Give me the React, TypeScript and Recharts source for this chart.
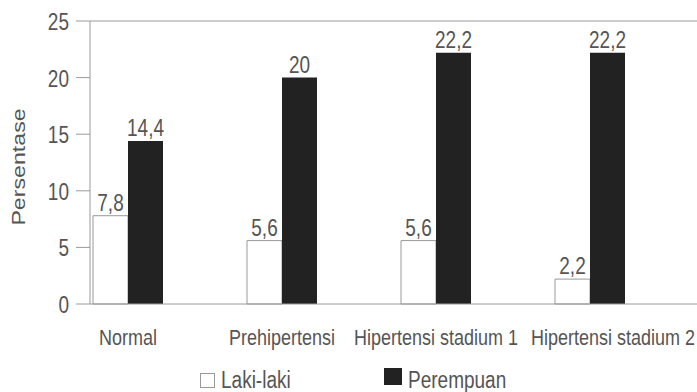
import React from 'react'
import { BarChart, Bar, XAxis, YAxis, LabelList, Legend, ReferenceLine } from 'recharts'

// kategori tekanan darah
const categories = ['Normal', 'Prehipertensi', 'Hipertensi stadium 1', 'Hipertensi stadium 2']
const lakiLaki = [7.8, 5.6, 5.6, 2.2]
const perempuan = [14.4, 20, 22.2, 22.2]
const yTicks = [0, 5, 10, 15, 20, 25]

const data = categories.map((name, i) => ({
  name,
  laki: lakiLaki[i],
  perempuan: perempuan[i]
}))

const W = 697
const H = 392
const FONT = 'Arial, "Liberation Sans", sans-serif'
const TEXT = '#555'
const AXIS = '#9a9a9a'
const FS = 19
const STRETCH = 1.22 // teks di gambar asli agak tinggi

const fmt = (v: any) => String(v).replace('.', ',')

// teks yang ditarik vertikal
const Tall = ({ x, y, anchor = 'middle', rotate = 0, size = FS, children }: any) => (
  <g transform={`translate(${x},${y}) scale(1,${STRETCH}) rotate(${rotate})`}>
    <text x={0} y={0} textAnchor={anchor} fill={TEXT} fontSize={size} fontFamily={FONT}>
      {children}
    </text>
  </g>
)

const XTick = ({ x, y, payload, index }: any) => {
  // label terakhir dirapatkan ke tepi kanan supaya tidak bertabrakan
  if (index === categories.length - 1) {
    return <Tall x={W - 2} y={y + 41} anchor="end" size={18}>{payload.value}</Tall>
  }
  return <Tall x={x} y={y + 41} size={18}>{payload.value}</Tall>
}

const YTick = ({ x, y, payload }: any) => (
  <Tall x={x} y={y + 9} anchor="end">{payload.value}</Tall>
)

const YLabel = () => (
  <Tall x={25} y={167} rotate={-90}>Persentase</Tall>
)

const BarLabel = ({ x, y, width, value }: any) => (
  <Tall x={x + width / 2} y={y - 5}>{fmt(value)}</Tall>
)

const CustomLegend = () => (
  <div style={{ position: 'relative', height: 30, fontFamily: FONT, fontSize: 19, color: TEXT }}>
    <span style={{ position: 'absolute', left: 200, top: 11, width: 13, height: 13, border: '1px solid #999', background: '#fff' }} />
    <span style={{ position: 'absolute', left: 221, top: 5, display: 'inline-block', transform: `scaleY(${STRETCH})`, transformOrigin: 'top left' }}>Laki-laki</span>
    <span style={{ position: 'absolute', left: 384, top: 6, width: 18, height: 17, background: '#222' }} />
    <span style={{ position: 'absolute', left: 408, top: 5, display: 'inline-block', transform: `scaleY(${STRETCH})`, transformOrigin: 'top left' }}>Perempuan</span>
  </div>
)

export default function App() {
  return (
    <div style={{ position: 'absolute', left: 0, top: 0, background: '#fff' }}>
      <BarChart
        width={W}
        height={H}
        data={data}
        margin={{ top: 21, right: 0, left: 0, bottom: 0 }}
        barGap={0}
        barSize={35}
      >
        <XAxis
          dataKey="name"
          height={88}
          stroke={AXIS}
          tickLine={false}
          tickSize={0}
          tickMargin={0}
          interval={0}
          padding={{ left: -39, right: 30 }}
          tick={<XTick />}
        />
        <YAxis
          width={90}
          domain={[0, 25]}
          ticks={yTicks}
          stroke={AXIS}
          tickSize={14}
          tickMargin={7}
          tick={<YTick />}
          label={<YLabel />}
        />
        <ReferenceLine y={25} stroke={AXIS} />
        <Legend verticalAlign="middle" content={<CustomLegend />} wrapperStyle={{ top: 362, left: 0, width: W }} />
        <Bar dataKey="laki" name="Laki-laki" fill="#fff" stroke="#999" strokeWidth={1} isAnimationActive={false}>
          <LabelList dataKey="laki" content={<BarLabel />} />
        </Bar>
        <Bar dataKey="perempuan" name="Perempuan" fill="#222" isAnimationActive={false}>
          <LabelList dataKey="perempuan" content={<BarLabel />} />
        </Bar>
      </BarChart>
    </div>
  )
}
